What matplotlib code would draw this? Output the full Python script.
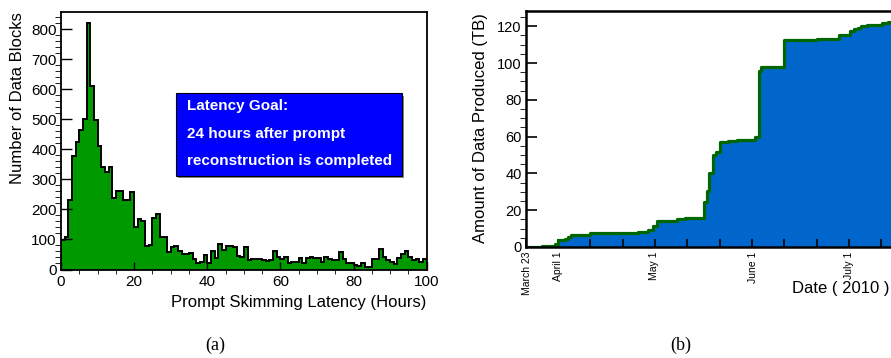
import numpy as np
import matplotlib
matplotlib.use("Agg")
import matplotlib.pyplot as plt
from matplotlib.patches import Rectangle

plt.rcParams['font.family'] = ['Liberation Sans', 'DejaVu Sans']

# ---------------------------------------------------------------------------
# (a) prompt skimming latency histogram, 1-hour bins from 0 to 100 h
# ---------------------------------------------------------------------------
latency_edges = np.arange(0, 101, 1)
latency_counts = [
    98, 107, 231, 379, 426, 464, 501, 820, 611, 497,
    412, 340, 326, 343, 237, 260, 260, 232, 232, 257,
    140, 168, 163, 78, 82, 170, 185, 108, 108, 58,
    74, 78, 60, 50, 50, 56, 34, 22, 24, 48,
    22, 62, 38, 85, 65, 78, 78, 76, 44, 42,
    75, 32, 34, 35, 35, 33, 28, 30, 63, 42,
    36, 42, 23, 26, 25, 38, 20, 39, 40, 38,
    38, 26, 40, 34, 30, 31, 57, 34, 22, 20,
    16, 12, 22, 8, 8, 34, 34, 67, 42, 30,
    26, 18, 37, 50, 63, 40, 31, 34, 26, 36,
]
goal_hours = 24
goal_arrow_top = 600
goal_text = ["Latency Goal:", "24 hours after prompt", "reconstruction is completed"]

# ---------------------------------------------------------------------------
# (b) cumulative data produced; day 0 = March 23 2010
# ---------------------------------------------------------------------------
step_days = [-1.2, 4, 6, 8, 9, 11, 12, 13, 14, 19, 34, 36, 37, 38.7, 39.8,
             46, 48.6, 54.4, 55.4, 56.2, 57.3, 58.2, 59.4, 62, 65, 70.5,
             71.6, 72.4, 79.7, 84, 90, 96.6, 100.2, 101.3, 102.8, 103.5,
             105.4, 108, 110.1, 112]
step_tb = [0, 0.3, 0.8, 1.5, 4.0, 4.4, 5.3, 6.3, 6.7, 7.4, 7.9, 8.4, 9.2, 11.4, 14.3,
           15.2, 15.8, 24.5, 30.3, 40.0, 49.8, 51.6, 57.0, 57.5, 58.0, 59.6,
           95.5, 97.6, 112.5, 112.8, 113.2, 115.4, 117.6, 118.3, 119.0, 120.0,
           120.5, 120.8, 121.6, 122.2]
date_labels = ["March 23", "April 1", "May 1", "June 1", "July 1"]
date_days = [-0.9, 9, 39, 70, 100]

W, H = 891, 358
fig = plt.figure(figsize=(W / 100, H / 100), dpi=100)


def px_axes(left, top, right, bottom):
    return fig.add_axes([left / W, 1 - bottom / H, (right - left) / W, (bottom - top) / H])


# ---------------------------------------------------------------------------
# Left panel
# ---------------------------------------------------------------------------
ax = px_axes(61, 11.7, 426.7, 269.5)
ax.stairs(latency_counts, latency_edges, fill=True, color="#009900", lw=0)
ax.stairs(latency_counts, latency_edges, baseline=0, color="black", lw=1.4)
ax.set_xlim(0, 100)
ax.set_ylim(0, 859)
ax.set_xticks(np.arange(0, 101, 20))
ax.set_xticks(np.arange(0, 101, 5), minor=True)
ax.set_yticks(np.arange(0, 801, 100))
ax.set_yticks(np.arange(0, 851, 20), minor=True)
ax.tick_params(direction="in", labelsize=11, width=1, top=False, right=False)
ax.tick_params(axis="y", which="major", length=8, pad=3)
ax.tick_params(axis="y", which="minor", length=4)
ax.tick_params(axis="x", which="major", length=6, pad=4)
ax.tick_params(axis="x", which="minor", length=3)
for s in ax.spines.values():
    s.set_linewidth(1.3)

ax.annotate("", xy=(goal_hours, -4), xytext=(goal_hours, goal_arrow_top),
            arrowprops=dict(arrowstyle="-|>", color="red", lw=2, mutation_scale=14,
                            shrinkA=0, shrinkB=0))

# blue info box with a grey drop shadow
bx0, by0, bx1, by1 = 31.4, 313, 93.3, 587
ax.add_patch(Rectangle((bx0 + 0.6, by0 - 8), bx1 - bx0, by1 - by0,
                       facecolor="#888888", edgecolor="none", zorder=4))
ax.add_patch(Rectangle((bx0, by0), bx1 - bx0, by1 - by0,
                       facecolor="#0000ff", edgecolor="black", lw=0.8, zorder=5))
for i, line in enumerate(goal_text):
    ax.text(34.4, 545 - i * 92, line, color="white", fontweight="bold",
            fontsize=11, ha="left", va="center", zorder=6)

fig.text(18 / W, 1 - 11.7 / H, "Number of Data Blocks", rotation=90,
         ha="center", va="top", fontsize=12)
fig.text(426.5 / W, 1 - 302 / H, "Prompt Skimming Latency (Hours)",
         ha="right", va="center", fontsize=12)

# ---------------------------------------------------------------------------
# Right panel (runs past the right edge of the figure, as in the original)
# ---------------------------------------------------------------------------
x0, x1 = -1.2, 120.1
bx = px_axes(525.7, 11, 913.7, 247)
days = list(step_days) + [x1]
vals = list(step_tb) + [step_tb[-1]]
bx.fill_between(days, vals, step="post", color="#0066cc", lw=0)
bx.step(days, vals, where="post", color="#006600", lw=2.3)
bx.set_xlim(x0, x1)
bx.set_ylim(0, 128.3)
bx.set_yticks(np.arange(0, 121, 20))
bx.set_yticks(np.arange(0, 128, 5), minor=True)
bx.set_xticks(np.arange(x0, x1, (x1 - x0) / 12))
bx.set_xticklabels([])
bx.set_xticks(date_days, minor=True)
bx.set_xticklabels(date_labels, minor=True, rotation=90, fontsize=7.5, va="top")
bx.tick_params(direction="in", top=False, right=False, width=1.2)
bx.tick_params(axis="y", which="major", length=8, pad=3, labelsize=10.5)
bx.tick_params(axis="y", which="minor", length=4)
bx.tick_params(axis="x", which="major", length=6)
bx.tick_params(axis="x", which="minor", length=0, pad=3)
for s in bx.spines.values():
    s.set_linewidth(1.8)

fig.text(480 / W, 1 - 12.7 / H, "Amount of Data Produced (TB)", rotation=90,
         ha="center", va="top", fontsize=12)
fig.text(889 / W, 1 - 289 / H, "Date ( 2010 )", ha="right", va="center", fontsize=12)

# panel captions
fig.text(215 / W, 1 - 345 / H, "(a)", ha="center", va="center", fontsize=13,
         family="Liberation Serif")
fig.text(681 / W, 1 - 345 / H, "(b)", ha="center", va="center", fontsize=13,
         family="Liberation Serif")

fig.savefig("out.png", dpi=100)
